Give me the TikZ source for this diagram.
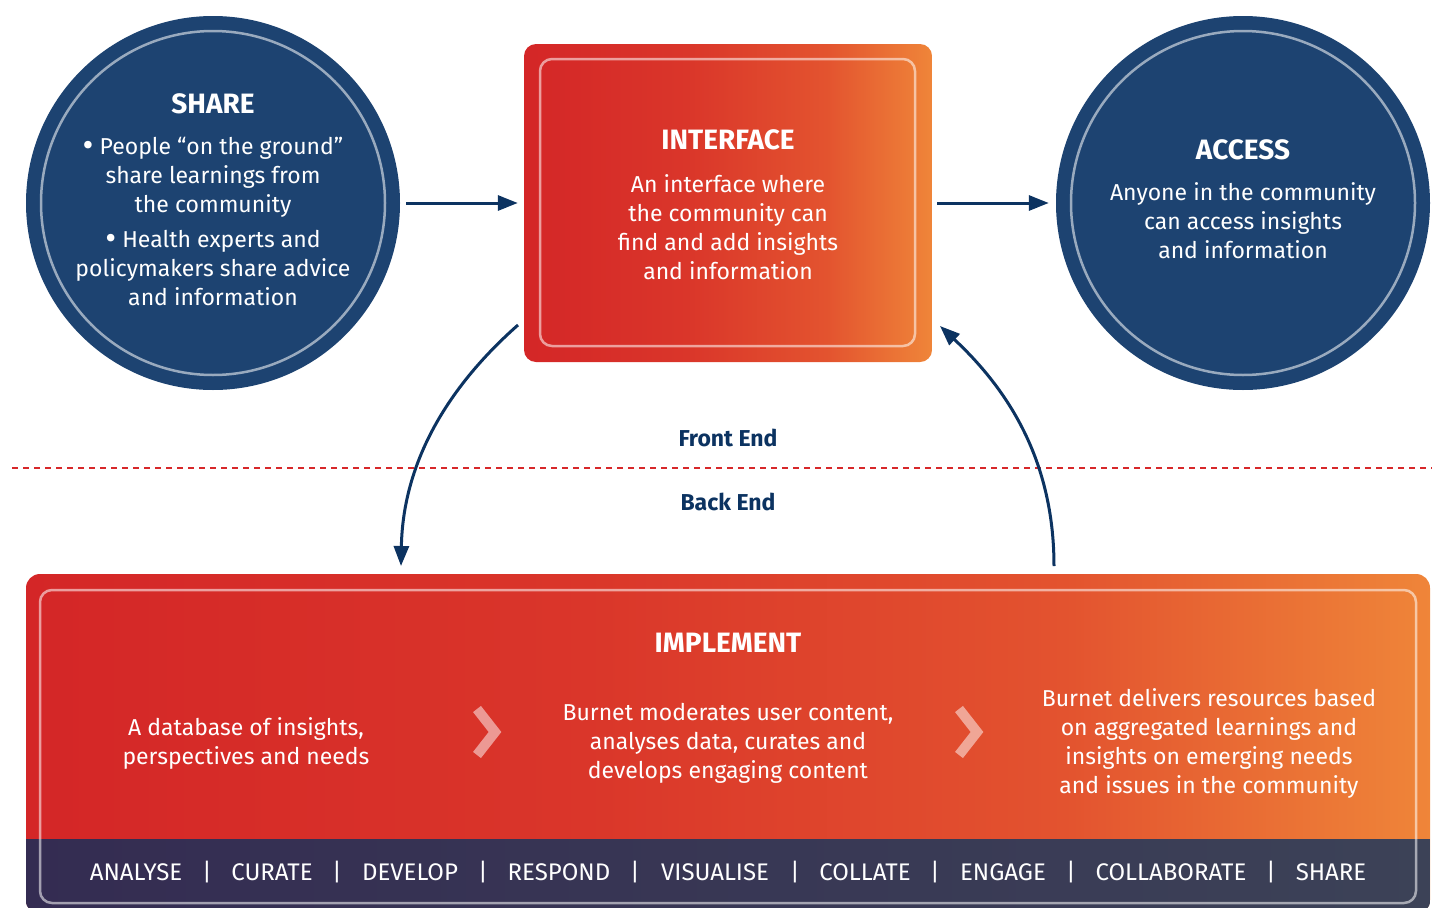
\documentclass[tikz,border=0pt]{standalone}
\usepackage{fontspec}
\setmainfont{Fira Sans}
\usetikzlibrary{arrows.meta,calc}
\definecolor{navy}{HTML}{1D4371}
\definecolor{arrowc}{HTML}{0C3361}
\definecolor{cred}{HTML}{D42627}
\definecolor{cred2}{HTML}{DA362A}
\definecolor{cora}{HTML}{E3532F}
\definecolor{corange}{HTML}{EF8539}
\definecolor{barL}{HTML}{342C52}
\definecolor{barR}{HTML}{3C4257}
\definecolor{dashred}{HTML}{D7282A}
\pgfdeclarehorizontalshading{redorange}{100bp}{color(0bp)=(cred); color(25bp)=(cred); color(45bp)=(cred2); color(62bp)=(cora); color(75bp)=(corange); color(100bp)=(corange)}
\pgfdeclarehorizontalshading{darkbar}{100bp}{color(0bp)=(barL); color(25bp)=(barL); color(75bp)=(barR); color(100bp)=(barR)}
\newcommand{\bigbul}{\raisebox{-0.08em}{\scalebox{1.45}{•}}}
\begin{document}
\begin{tikzpicture}[x=1pt,y=-1pt,
  body/.style={text=white, align=center, font=\fontsize{23}{29}\selectfont},
  title/.style={text=white, font=\fontsize{28}{32}\selectfont\bfseries},
  lbl/.style={text=arrowc, font=\fontsize{23}{26}\selectfont\bfseries},
  ring/.style={draw=white, draw opacity=0.55, line width=2.5pt},
  flow/.style={draw=arrowc, line width=3pt, -{Triangle[length=20pt,width=15pt]}},
  chev/.style={draw=white, draw opacity=0.5, line width=10pt, line join=miter},
  barword/.style={text=white, font=\fontsize{24}{26}\selectfont},
  bigcircle/.style={circle, fill=navy, minimum size=374pt, inner sep=0pt},
  boxshade/.style={rectangle, shade, shading=redorange, inner sep=0pt}]
\useasboundingbox (0,0) rectangle (1436,908);
\clip (0,0) rectangle (1436,908);

% circles
\node[bigcircle] (share) at (213,203) {};
\draw[ring] (share.center) circle[radius=172pt];
\node[bigcircle] (access) at (1243,203) {};
\draw[ring] (access.center) circle[radius=172pt];

% interface box
\node[boxshade, rounded corners=12pt, minimum width=408pt, minimum height=318pt] (iface) at (728,203) {};
\draw[ring, rounded corners=12pt] (540,59) rectangle (915,346);

% implement box
\node[boxshade, rounded corners=14pt, minimum width=1404pt, minimum height=340pt] (impl) at (728,744) {};
\begin{scope}
  \clip[rounded corners=14pt] (impl.north west) rectangle (impl.south east);
  \shade[shading=darkbar] (26,839) rectangle (1430,914);
\end{scope}
\draw[ring, rounded corners=12pt] (40,590) rectangle (1416,903);

% texts
\node[title] (sharet) at (213,104) {SHARE};
\node[body] (shareb1) at (213,177) {\bigbul{} People “on the ground”\\share learnings from\\the community};
\node[body] (shareb2) at (213,268) {\bigbul{} Health experts and\\policymakers share advice\\and information};

\node[title] (ifacet) at (728,140) {INTERFACE};
\node[body] (ifaceb) at (728,227) {An interface where\\the community can\\find and add insights\\and information};

\node[title] (accesst) at (1243,150) {ACCESS};
\node[body] (accessb) at (1243,221) {Anyone in the community\\can access insights\\and information};

\node[title] (implt) at (728,643) {IMPLEMENT};
\node[body] (col1) at (246,743) {A database of insights,\\perspectives and needs};
\node[body] (col2) at (728,743) {Burnet moderates user content,\\analyses data, curates and\\develops engaging content};
\node[body] (col3) at (1209,743) {Burnet delivers resources based\\on aggregated learnings and\\insights on emerging needs\\and issues in the community};

% chevrons
\draw[chev] (477,709) -- (495,732) -- (477,755);
\draw[chev] (959,709) -- (977,732) -- (959,755);

% bottom bar words
\foreach \x/\w [count=\i] in {136/ANALYSE,207/|,272/CURATE,337/|,410/DEVELOP,483/|,559/RESPOND,635/|,715/VISUALISE,795/|,865/COLLATE,935/|,1003/ENGAGE,1071/|,1171/COLLABORATE,1271/|,1331/SHARE}
  \node[barword] (bw\i) at (\x,872) {\w};

% front / back end
\node[lbl] (front) at (728,438) {Front End};
\node[lbl] (back) at (728,502) {Back End};
\coordinate (dl) at (12,468);
\coordinate (dr) at (1432,468);
\draw[dashred, line width=1.5pt, dash pattern=on 6pt off 5pt] (dl) -- (dr);

% arrows
\draw[flow, shorten <=6pt, shorten >=6pt] (share.east) -- (iface.west);
\draw[flow, shorten <=5pt, shorten >=7pt] (iface.east) -- (access.west);
\coordinate (c1s) at (518,325);
\coordinate (c1e) at (401,566);
\draw[flow] (c1s) .. controls (450,385) and (403,460) .. (c1e);
\coordinate (c2s) at (1054,566);
\coordinate (c2e) at (940,326);
\draw[flow] (c2s) .. controls (1054,455) and (1003,385) .. (c2e);
\end{tikzpicture}
\end{document}
